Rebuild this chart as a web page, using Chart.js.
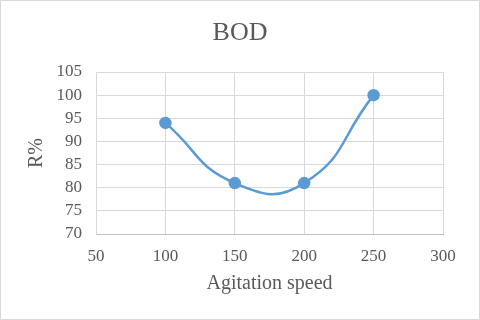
<!DOCTYPE html>
<html>
<head>
<meta charset="utf-8">
<script src="https://cdn.jsdelivr.net/npm/chart.js@4/dist/chart.umd.min.js"></script>
<style>
  html, body { margin: 0; padding: 0; background: #fff; }
  #wrap { position: relative; width: 480px; height: 320px; box-sizing: border-box; border: 1px solid #d9d9d9; }
  canvas { display: block; }
</style>
</head>
<body>
<div id="wrap"><canvas id="chart" width="478" height="318"></canvas></div>
<script>
  // BOD removal vs agitation speed
  var speeds = [100, 150, 200, 250];
  var removal = [94, 81, 81, 100];
  var chartTitle = 'BOD';
  var xTitle = 'Agitation speed';
  var yTitle = 'R%';

  var textColor = '#595959';
  var gridColor = '#d9d9d9';
  var lineColor = '#5b9bd5';
  var serif = '"Liberation Serif", "Times New Roman", serif';

  // title centred on the whole canvas, not only the plot area
  var centreTitle = {
    id: 'centreTitle',
    afterDraw: function (chart) {
      var ctx = chart.ctx;
      ctx.save();
      ctx.fillStyle = textColor;
      ctx.font = '26px ' + serif;
      ctx.textAlign = 'center';
      ctx.textBaseline = 'middle';
      ctx.fillText(chartTitle, chart.width / 2, 32);
      ctx.restore();
    }
  };

  new Chart(document.getElementById('chart').getContext('2d'), {
    type: 'line',
    data: {
      datasets: [{
        data: speeds.map(function (s, i) { return { x: s, y: removal[i] }; }),
        borderColor: lineColor,
        backgroundColor: lineColor,
        borderWidth: 2.5,
        pointRadius: 5,
        pointHoverRadius: 5,
        tension: 0.5,
        fill: false
      }]
    },
    plugins: [centreTitle],
    options: {
      responsive: false,
      animation: false,
      layout: { padding: { left: 0, right: 36, top: 71, bottom: 0 } },
      plugins: {
        legend: { display: false },
        tooltip: { enabled: false },
        title: { display: false }
      },
      scales: {
        x: {
          type: 'linear',
          min: 50, max: 300,
          ticks: { stepSize: 50, autoSkip: false, maxRotation: 0, color: textColor, font: { family: serif, size: 17 }, padding: 12 },
          grid: { color: gridColor, drawTicks: false },
          border: { color: '#bfbfbf' },
          title: { display: true, text: xTitle, color: textColor, font: { family: serif, size: 20 }, padding: { top: 0, bottom: 23 } },
          afterFit: function (scale) { scale.height = 85; }
        },
        y: {
          min: 70, max: 105,
          ticks: { stepSize: 5, autoSkip: false, color: textColor, font: { family: serif, size: 17 }, padding: 14 },
          grid: { color: gridColor, drawTicks: false },
          border: { color: gridColor },
          title: { display: true, text: yTitle, color: textColor, font: { family: serif, size: 20 }, padding: { top: 24, bottom: 0 } },
          afterFit: function (scale) { scale.width = 95; }
        }
      }
    }
  });
</script>
</body>
</html>
